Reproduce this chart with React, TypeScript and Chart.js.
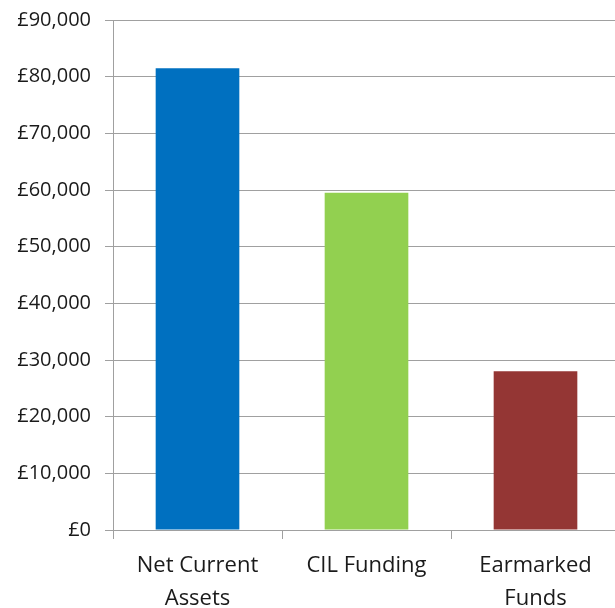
import React, { useEffect, useRef } from "react";
import { Chart, registerables } from "chart.js";

Chart.register(...registerables);

const categories: string[][] = [["Net Current", "Assets"], ["CIL Funding"], ["Earmarked", "Funds"]];
const values: number[] = [81500, 59500, 28000];
const barColors: string[] = ["#0070C0", "#92D050", "#943634"];
const yTicks: number[] = [0, 10000, 20000, 30000, 40000, 50000, 60000, 70000, 80000, 90000];

const FONT = "'Open Sans', 'Noto Sans', sans-serif";

export default function App() {
  const ref = useRef<HTMLCanvasElement | null>(null);
  useEffect(() => {
    if (!ref.current) return;
    const chart = new Chart(ref.current, {
      type: "bar",
      data: {
        labels: categories,
        datasets: [
          {
            data: values,
            backgroundColor: barColors,
            borderWidth: 0,
            categoryPercentage: 1,
            barPercentage: 0.495,
          },
        ],
      },
      options: {
        animation: false,
        responsive: false,
        maintainAspectRatio: false,
        layout: { padding: { top: 20, right: 0, left: 0, bottom: 0 } },
        plugins: { legend: { display: false }, tooltip: { enabled: false } },
        scales: {
          x: {
            grid: {
              offset: true,
              drawOnChartArea: false,
              drawTicks: true,
              tickLength: 9,
              color: "#a0a0a0",
              lineWidth: 1,
            },
            border: { color: "#a0a0a0", width: 1 },
            ticks: {
              color: "#1a1a1a",
              font: { family: FONT, size: 22, lineHeight: 1.5 },
              padding: 10,
              maxRotation: 0,
              autoSkip: false,
            },
            afterFit: (s: any) => {
              s.height = 78;
              s.paddingLeft = 0;
              s.paddingRight = 0;
            },
          },
          y: {
            min: 0,
            max: 90000,
            afterBuildTicks: (s: any) => {
              s.ticks = yTicks.map((v) => ({ value: v }));
            },
            grid: { color: "#a0a0a0", tickLength: 8, lineWidth: 1 },
            border: { color: "#a0a0a0", width: 1 },
            ticks: {
              color: "#1a1a1a",
              font: { family: FONT, size: 20 },
              padding: 14,
              callback: (v: any) => "£" + Number(v).toLocaleString("en-GB"),
            },
            afterFit: (s: any) => {
              s.width = 113;
              s.paddingTop = 0;
              s.paddingBottom = 0;
            },
          },
        },
      },
    });
    return () => chart.destroy();
  }, []);
  return (
    <div style={{ position: "absolute", left: 0, top: 0, width: 615, height: 608, overflow: "hidden" }}>
      <canvas ref={ref} width={620} height={608} style={{ width: 620, height: 608 }} />
    </div>
  );
}
